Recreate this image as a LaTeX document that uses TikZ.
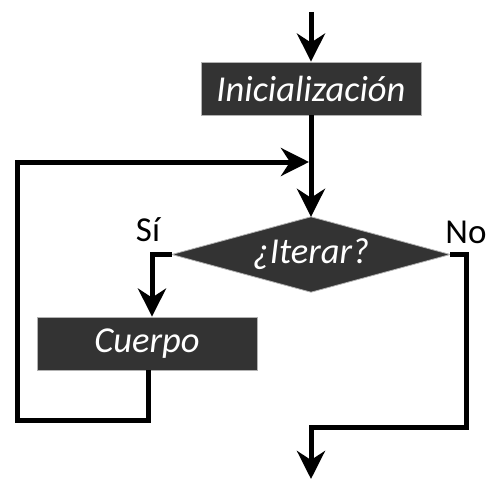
\documentclass[tikz,border=0pt]{standalone}
\usepackage{fontspec}
\setmainfont{Carlito}
\usetikzlibrary{arrows.meta}
\begin{document}
\begin{tikzpicture}[x=1pt,y=-1pt,
  flow/.style={line width=5pt,-{Stealth[length=28pt,width=28pt,inset=9pt]}},
  procbox/.style={draw=gray!60,line width=0.8pt,fill=black!80,text=white,font=\fontsize{36.5}{40}\selectfont\itshape,minimum width=220pt,minimum height=53pt,inner sep=0pt},
  decide/.style={text=white,font=\fontsize{36.5}{40}\selectfont\itshape,minimum width=278pt,minimum height=75pt,inner sep=0pt},
  diashape/.style={draw=gray!60,line width=0.8pt,fill=black!80},
  lbl/.style={font=\fontsize{35}{40}\selectfont,inner sep=0pt}]
\useasboundingbox (0,0) rectangle (488,487);
\node[procbox] (init) at (311,88.5) {Inicialización};
\node[decide] (iter) at (311,254.5) {};
\draw[diashape] (iter.north) -- (iter.east) -- (iter.south) -- (iter.west) -- cycle;
\node[decide] (itertext) at (iter.center) {¿Iterar?};
\node[procbox] (body) at (147,343.5) {Cuerpo};
\coordinate (start) at (311,12);
\coordinate (join) at (309,162);
\coordinate (sl) at (152,254.5);
\coordinate (bl) at (148,420);
\coordinate (lc) at (17,420);
\coordinate (lt) at (17,162);
\coordinate (nr) at (466,254.5);
\coordinate (nb) at (466,427);
\coordinate (nm) at (311,427);
\coordinate (end) at (311,479);
\draw[flow] (start) -- (init.north);
\draw[flow] (init.south) -- (iter.north);
\draw[flow] (iter.west) -- (sl) -- (sl |- body.north);
\draw[flow] (body.south -| bl) -- (bl) -- (lc) -- (lt) -- (join);
\draw[flow] (iter.east) -- (nr) -- (nb) -- (nm) -- (end);
\node[lbl] (si) at (148,230) {Sí};
\node[lbl] (no) at (466,232) {No};
\end{tikzpicture}
\end{document}
